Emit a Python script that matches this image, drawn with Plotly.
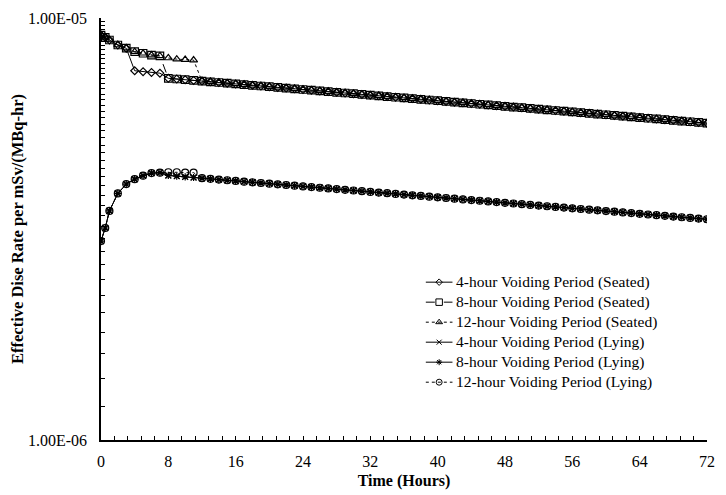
import plotly.graph_objects as go

# Time points (hours)
time_hours = [0, 0.5, 1, 2, 3, 4, 5, 6, 7, 8, 9, 10, 11, 12, 13, 14, 15, 16, 17, 18, 19, 20,
              21, 22, 23, 24, 25, 26, 27, 28, 29, 30, 31, 32, 33, 34, 35, 36, 37, 38, 39, 40,
              41, 42, 43, 44, 45, 46, 47, 48, 49, 50, 51, 52, 53, 54, 55, 56, 57, 58, 59, 60,
              61, 62, 63, 64, 65, 66, 67, 68, 69, 70, 71, 72]
x_tick_values = [0, 8, 16, 24, 32, 40, 48, 56, 64, 72]
y_tick_values = [1e-6, 1e-5]
y_tick_labels = ["1.00E-06", "1.00E-05"]

# Values in units of 1e-6 mSv/(MBq-hr)
seated_start = [9.11, 9.00, 8.87, 8.63, 8.48]            # t = 0 .. 3
seated_4h_mid = [7.50, 7.46, 7.43, 7.40]                 # t = 4 .. 7
seated_8h_mid = [8.32, 8.25, 8.17, 8.13]                 # t = 4 .. 7
seated_12h_late = [8.04, 7.99, 7.97, 7.95]               # t = 8 .. 11
upper_tail = [7.196, 7.169, 7.141, 7.114, 7.087, 7.060, 7.033, 7.006, 6.979, 6.953, 6.926,
              6.900, 6.873, 6.847, 6.821, 6.795, 6.769, 6.743, 6.718, 6.692, 6.666, 6.641,
              6.616, 6.590, 6.565, 6.540, 6.515, 6.490, 6.466, 6.441, 6.416, 6.392, 6.368,
              6.343, 6.319, 6.295, 6.271, 6.247, 6.223, 6.199, 6.176, 6.152, 6.129, 6.105,
              6.082, 6.059, 6.036, 6.013, 5.990, 5.967, 5.944, 5.921, 5.899, 5.876, 5.854,
              5.831, 5.809, 5.787, 5.765, 5.743, 5.721, 5.699, 5.677, 5.656, 5.634]  # t = 8 .. 72

lying_start = [2.96, 3.18, 3.49, 3.84, 4.04, 4.15, 4.23, 4.29, 4.30]   # t = 0 .. 7
lying_12h_late = [4.31, 4.31, 4.30, 4.30]                            # t = 8 .. 11
lower_tail = [4.235, 4.219, 4.203, 4.188, 4.172, 4.157, 4.141, 4.126, 4.110, 4.095, 4.080,
              4.065, 4.050, 4.035, 4.020, 4.005, 3.990, 3.975, 3.960, 3.945, 3.931, 3.916,
              3.901, 3.887, 3.872, 3.858, 3.844, 3.829, 3.815, 3.801, 3.787, 3.773, 3.759,
              3.745, 3.731, 3.717, 3.703, 3.689, 3.675, 3.662, 3.648, 3.634, 3.621, 3.607,
              3.594, 3.580, 3.567, 3.554, 3.540, 3.527, 3.514, 3.501, 3.488, 3.475, 3.462,
              3.449, 3.436, 3.423, 3.410, 3.398, 3.385, 3.372, 3.360, 3.347, 3.335]  # t = 8 .. 72

series_names = [
    "4-hour Voiding Period (Seated)",
    "8-hour Voiding Period (Seated)",
    "12-hour Voiding Period (Seated)",
    "4-hour Voiding Period (Lying)",
    "8-hour Voiding Period (Lying)",
    "12-hour Voiding Period (Lying)",
]

series_values = [
    seated_start + seated_4h_mid + upper_tail,
    seated_start + seated_8h_mid + upper_tail,
    seated_start + seated_8h_mid + seated_12h_late + upper_tail[4:],
    lying_start + lower_tail,
    lying_start + lower_tail,
    lying_start + lying_12h_late + lower_tail[4:],
]

styles = [
    dict(symbol="diamond-open", size=6, dash="solid"),
    dict(symbol="square-open", size=7.5, dash="dash"),
    dict(symbol="triangle-up-open", size=7, dash="dot"),
    dict(symbol="x-thin-open", size=6, dash="solid"),
    dict(symbol="asterisk-open", size=6, dash="solid"),
    dict(symbol="circle-open", size=7, dash="dot"),
]

FONT = "Liberation Serif"
fig = go.Figure()
for name, vals, st in zip(series_names, series_values, styles):
    fig.add_trace(go.Scatter(
        x=time_hours,
        y=[v * 1e-6 for v in vals],
        name=name,
        mode="lines+markers",
        showlegend=False,
        line=dict(color="black", width=1, dash=st["dash"]),
        marker=dict(symbol=st["symbol"], size=st["size"], color="black",
                    line=dict(color="black", width=1.2)),
    ))

# Hand-drawn legend on an overlay axis spanning the plot area (0..1 both ways)
LEG_X0, LEG_XM, LEG_X1, LEG_TX = 0.536, 0.558, 0.580, 0.583
LEG_TOP, LEG_STEP = 0.374, 0.0474
for i, (name, st) in enumerate(zip(series_names, styles)):
    yy = LEG_TOP - i * LEG_STEP
    fig.add_trace(go.Scatter(
        x=[LEG_X0, LEG_XM, LEG_X1], y=[yy, yy, yy],
        xaxis="x2", yaxis="y2", mode="lines+markers", showlegend=False,
        hoverinfo="skip",
        line=dict(color="black", width=1, dash=st["dash"]),
        marker=dict(symbol=st["symbol"], size=[st["size"] - 1] * 3, color="black",
                    opacity=[0, 1, 0], line=dict(color="black", width=1)),
    ))
    fig.add_annotation(x=LEG_TX, y=yy, xref="paper", yref="paper", text=name,
                       showarrow=False, xanchor="left", yanchor="middle",
                       font=dict(family=FONT, size=15.5, color="black"))

# The page body adds an 8 px offset, so the figure is 8 px smaller and margins shifted.
fig.update_layout(
    width=718, height=487,
    margin=dict(l=93, r=19, t=10, b=55),
    paper_bgcolor="white", plot_bgcolor="white",
    font=dict(family=FONT, size=16, color="black"),
    showlegend=False,
    xaxis=dict(
        range=[0, 72], tickvals=x_tick_values,
        ticks="inside", ticklen=4, tickcolor="black", automargin=False,
        minor=dict(dtick=1.6, tick0=0, ticks="inside", ticklen=4, tickcolor="black"),
        showline=True, linecolor="black", linewidth=1.5, showgrid=False, zeroline=False,
        tickfont=dict(family=FONT, size=16), ticklabelstandoff=6,
        title=dict(text="<b>Time (Hours)</b>", font=dict(family=FONT, size=16), standoff=6),
    ),
    yaxis=dict(
        type="log", range=[-6, -5],
        tickvals=y_tick_values, ticktext=y_tick_labels,
        ticks="inside", ticklen=4, tickcolor="black", automargin=False,
        minor=dict(ticks="inside", ticklen=4, tickcolor="black"),
        showline=True, linecolor="black", linewidth=1.5, showgrid=False, zeroline=False,
        tickfont=dict(family=FONT, size=16), ticklabelstandoff=9,
        title=dict(text="<b>Effective Dise Rate per mSv/(MBq-hr)</b>",
                   font=dict(family=FONT, size=16.5), standoff=4),
    ),
    xaxis2=dict(overlaying="x", range=[0, 1], visible=False, fixedrange=True),
    yaxis2=dict(overlaying="y", range=[0, 1], visible=False, fixedrange=True),
)

fig.write_html("out.html")
